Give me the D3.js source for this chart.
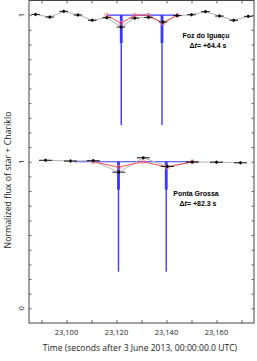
<!DOCTYPE html>
<html>
<head>
<meta charset="utf-8">
<script src="https://cdn.jsdelivr.net/npm/d3@7"></script>
<style>
  body { margin: 0; background: #fff; overflow: hidden; }
  svg { display: block; }
</style>
</head>
<body>
<svg id="chart" width="257" height="361"></svg>
<script>
// Foz do Iguaçu light curve (shifted up by 1 in the plot)
fozTime = [23087.6, 23093.3, 23098.9, 23104.6, 23110.3, 23116.1, 23121.8, 23127.3, 23132.8, 23138.6, 23144.3, 23150.0, 23155.6, 23161.2, 23166.9, 23172.7];
fozFlux = [1.005, 0.987, 1.026, 1.001, 0.965, 0.983, 0.919, 0.980, 0.985, 0.953, 0.997, 1.003, 1.024, 0.994, 0.965, 0.992];
fozModelTime = [23116.1, 23121.8, 23127.3, 23132.8, 23138.6, 23144.3];
fozModelFlux = [1.0, 0.945, 1.0, 1.0, 0.945, 1.0];
fozRingTime = [23121.9, 23138.2];
fozWell = [23116.0, 23144.3];

// Ponta Grossa light curve
pgTime = [23091.6, 23101.6, 23110.7, 23120.9, 23130.7, 23140.3, 23150.3, 23160.0, 23169.6];
pgFlux = [1.010, 1.005, 1.007, 0.929, 1.027, 0.968, 0.998, 0.997, 0.993];
pgModelTime = [23110.7, 23120.9, 23130.7, 23140.3, 23150.3];
pgModelFlux = [1.0, 0.963, 1.0, 0.963, 1.0];
pgRingTime = [23120.8, 23139.9];
pgWell = [23102.9, 23152.9];

ringC1Flux = 0.25;
ringC2Flux = 0.81;

xTicks = [23100, 23120, 23140, 23160];
yTickLabels = [{v: 2, label: "1"}, {v: 1, label: "1"}, {v: 0, label: "0"}];

svg = d3.select('#chart');
margin = {top: 0.5, right: 3, bottom: 38, left: 29};
innerWidth = 257 - margin.left - margin.right;
innerHeight = 361 - margin.top - margin.bottom;

g = svg.append('g').attr('transform', `translate(${margin.left}, ${margin.top})`);

xScale = d3.scaleLinear().domain([23085, 23175]).range([0, innerWidth]);
yScale = d3.scaleLinear().domain([-0.1, 2.1]).range([innerHeight, 0]);

// ticks on all four sides, pointing inward
minorX = d3.range(23090, 23175, 10);
minorY = d3.range(0, 21).map(i => i / 10);

g.append('g').attr('transform', `translate(0, ${innerHeight})`)
    .call(d3.axisBottom(xScale).tickValues(minorX).tickSize(-3).tickFormat(''))
    .call(a => a.select('.domain').remove());
g.append('g')
    .call(d3.axisTop(xScale).tickValues(minorX).tickSize(-3).tickFormat(''))
    .call(a => a.select('.domain').remove());
g.append('g')
    .call(d3.axisLeft(yScale).tickValues(minorY).tickSize(-2.5).tickFormat(''))
    .call(a => a.select('.domain').remove());
g.append('g').attr('transform', `translate(${innerWidth}, 0)`)
    .call(d3.axisRight(yScale).tickValues(minorY).tickSize(-2.5).tickFormat(''))
    .call(a => a.select('.domain').remove());
g.selectAll('.tick line').attr('stroke', '#444').attr('stroke-width', 0.8);

g.selectAll('.xlab')
    .data(xTicks)
    .enter()
    .append('text')
    .attr('x', d => xScale(d))
    .attr('y', innerHeight + 11.5)
    .attr('text-anchor', 'middle')
    .attr('font-family', 'Open Sans, sans-serif')
    .attr('font-size', 7.5)
    .attr('fill', '#222')
    .text(d => d3.format(',')(d));

g.selectAll('.ylab')
    .data(yTickLabels)
    .enter()
    .append('text')
    .attr('transform', d => `translate(-5, ${yScale(d.v)}) rotate(-90)`)
    .attr('text-anchor', 'middle')
    .attr('font-family', 'Open Sans, sans-serif')
    .attr('font-size', 7.5)
    .attr('fill', '#222')
    .text(d => d.label);

// axis titles
svg.append('text')
    .attr('x', 140)
    .attr('y', 351)
    .attr('text-anchor', 'middle')
    .attr('font-family', 'Open Sans, sans-serif')
    .attr('font-size', 8.6)
    .attr('fill', '#222')
    .text('Time (seconds after 3 June 2013, 00:00:00.0 UTC)');

svg.append('text')
    .attr('transform', 'translate(11, 180) rotate(-90)')
    .attr('text-anchor', 'middle')
    .attr('font-family', 'Open Sans, sans-serif')
    .attr('font-size', 8.8)
    .attr('fill', '#222')
    .text('Normalized flux of star + Chariklo');

function drawCurve(times, flux, offset, halfExp, modelTimes, modelFlux, ringTimes, well) {
    let line = d3.line().x(d => xScale(d[0])).y(d => yScale(d[1] + offset));
    let obs = times.map((t, i) => [t, flux[i]]);
    let model = modelTimes.map((t, i) => [t, modelFlux[i]]);

    // square-well model
    g.append('path')
        .attr('d', line([[well[0], 1], [well[1], 1]]))
        .attr('fill', 'none')
        .attr('stroke', '#3b3bff')
        .attr('stroke-width', 1.2);
    ringTimes.forEach(rt => {
        g.append('rect')
            .attr('x', xScale(rt) - 1.4)
            .attr('y', yScale(1 + offset))
            .attr('width', 2.8)
            .attr('height', yScale(ringC2Flux + offset) - yScale(1 + offset))
            .attr('fill', '#3535ff');
        g.append('rect')
            .attr('x', xScale(rt) - 0.7)
            .attr('y', yScale(1 + offset))
            .attr('width', 1.4)
            .attr('height', yScale(ringC1Flux + offset) - yScale(1 + offset))
            .attr('fill', '#3b3bff');
    });

    // observed points joined by grey line
    g.append('path')
        .attr('d', line(obs))
        .attr('fill', 'none')
        .attr('stroke', '#b4b4b4')
        .attr('stroke-width', 1);

    // synthetic light curve
    g.append('path')
        .attr('d', line(model))
        .attr('fill', 'none')
        .attr('stroke', '#ff3b3b')
        .attr('stroke-width', 0.9);
    g.selectAll(null)
        .data(model)
        .enter()
        .append('circle')
        .attr('cx', d => xScale(d[0]))
        .attr('cy', d => yScale(d[1] + offset))
        .attr('r', 2)
        .attr('fill', 'none')
        .attr('stroke', '#ff7a7a')
        .attr('stroke-width', 0.8);

    let pts = g.selectAll(null).data(obs).enter().append('g');
    pts.append('path')
        .attr('d', d => line([[d[0] - halfExp, d[1]], [d[0] + halfExp, d[1]]]))
        .attr('stroke', '#111')
        .attr('stroke-width', 1);
    pts.append('path')
        .attr('d', d => line([[d[0], d[1] - 0.012], [d[0], d[1] + 0.012]]))
        .attr('stroke', '#111')
        .attr('stroke-width', 0.8);
    pts.append('rect')
        .attr('x', d => xScale(d[0]) - 1.2)
        .attr('y', d => yScale(d[1] + offset) - 1.2)
        .attr('width', 2.4)
        .attr('height', 2.4)
        .attr('fill', '#000');
}

drawCurve(fozTime, fozFlux, 1, 1.7, fozModelTime, fozModelFlux, fozRingTime, fozWell);
drawCurve(pgTime, pgFlux, 0, 2.6, pgModelTime, pgModelFlux, pgRingTime, pgWell);

// station labels
labels = [
    {x: 206, y: 38, name: 'Foz do Iguaçu', dt: '+64.4 s'},
    {x: 196, y: 196, name: 'Ponta Grossa', dt: '+82.3 s'}
];
labels.forEach(l => {
    svg.append('text')
        .attr('x', l.x)
        .attr('y', l.y)
        .attr('text-anchor', 'middle')
        .attr('font-family', 'Liberation Sans, Arial, sans-serif')
        .attr('font-weight', 'bold')
        .attr('font-size', 7)
        .text(l.name);
    let dt = svg.append('text')
        .attr('x', l.x + 2)
        .attr('y', l.y + 10)
        .attr('text-anchor', 'middle')
        .attr('font-family', 'Liberation Sans, Arial, sans-serif')
        .attr('font-weight', 'bold')
        .attr('font-size', 7);
    dt.append('tspan').text('Δ');
    dt.append('tspan').attr('font-style', 'italic').text('t');
    dt.append('tspan').text('= ' + l.dt);
});

// frame
g.append('rect')
    .attr('width', innerWidth)
    .attr('height', innerHeight)
    .attr('fill', 'none')
    .attr('stroke', '#444')
    .attr('stroke-width', 1);
</script>
</body>
</html>
